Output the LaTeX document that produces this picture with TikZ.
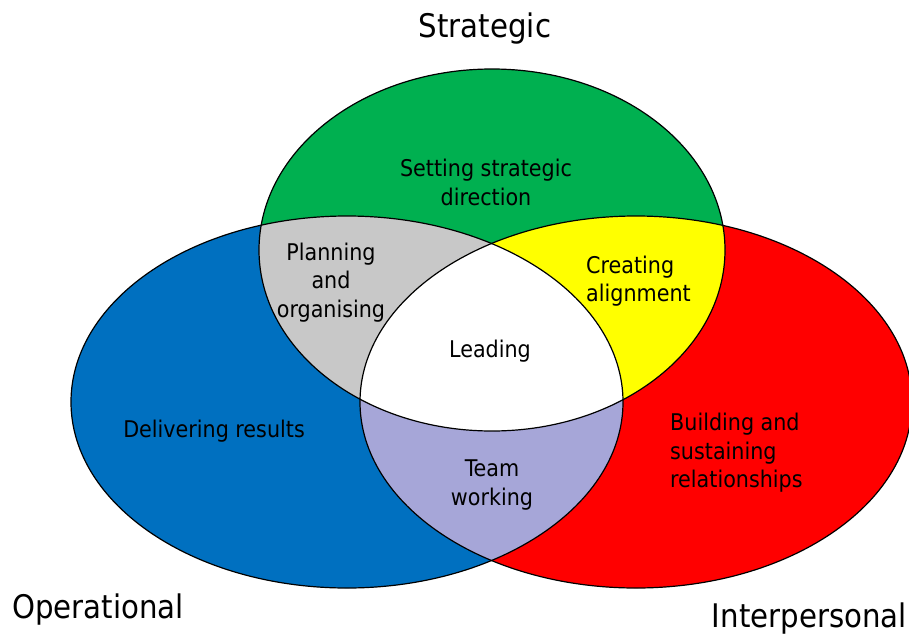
\documentclass[tikz,border=0pt]{standalone}
\usepackage{fontspec}
\setmainfont{DejaVu Sans Condensed}
\definecolor{stratgreen}{RGB}{0,176,80}
\definecolor{operblue}{RGB}{0,112,192}
\definecolor{interred}{RGB}{255,0,0}
\definecolor{alignyellow}{RGB}{255,255,0}
\definecolor{plangrey}{RGB}{200,200,200}
\definecolor{teamlilac}{RGB}{166,166,216}
\tikzset{
  stratsize/.style={x radius=233,y radius=181},
  sidesize/.style={x radius=276,y radius=186},
  area/.style={inner sep=0pt,align=center,font=\fontsize{23}{28.5}\selectfont},
  corner/.style={inner sep=0pt,font=\fontsize{32.5}{38}\selectfont}
}
\begin{document}
\begin{tikzpicture}[x=1pt,y=-1pt]
            \useasboundingbox (0,0) rectangle (909,637);
            \coordinate (strat) at (492,250);
            \coordinate (oper) at (347,402);
            \coordinate (inter) at (636,402);

            \fill[operblue] (oper) ellipse [sidesize];
            \fill[interred] (inter) ellipse [sidesize];
            \fill[stratgreen] (strat) ellipse [stratsize];

            \begin{scope}
                \clip (strat) ellipse [stratsize];
                \fill[plangrey] (oper) ellipse [sidesize];
                \fill[alignyellow] (inter) ellipse [sidesize];
            \end{scope}
            \begin{scope}
                \clip (oper) ellipse [sidesize];
                \fill[teamlilac] (inter) ellipse [sidesize];
                \clip (inter) ellipse [sidesize];
                \fill[white] (strat) ellipse [stratsize];
            \end{scope}

            \draw[line width=1.2pt] (oper) ellipse [sidesize];
            \draw[line width=1.2pt] (inter) ellipse [sidesize];
            \draw[line width=1.2pt] (strat) ellipse [stratsize];

            \node[area] (setting) at (486,182.5) {Setting strategic\\direction};
            \node[area] (planning) at (331,282.5) {Planning\\and\\organising};
            \node[area,anchor=base] (leading) at (490,357) {Leading};
            \node[area,align=left,anchor=west] (creating) at (586,281) {Creating\\alignment};
            \node[area,anchor=base] (delivering) at (214,437) {Delivering results};
            \node[area] (team) at (492,485) {Team\\working};
            \node[area,align=left,anchor=west] (building) at (670,453) {Building and\\sustaining\\relationships};

            \node[corner,anchor=base] (strategic) at (485,37) {Strategic};
            \node[corner,anchor=base west] (operational) at (12,618) {Operational};
            \node[corner,anchor=base east] (interpersonal) at (907,627) {Interpersonal};
        \end{tikzpicture}
\end{document}
